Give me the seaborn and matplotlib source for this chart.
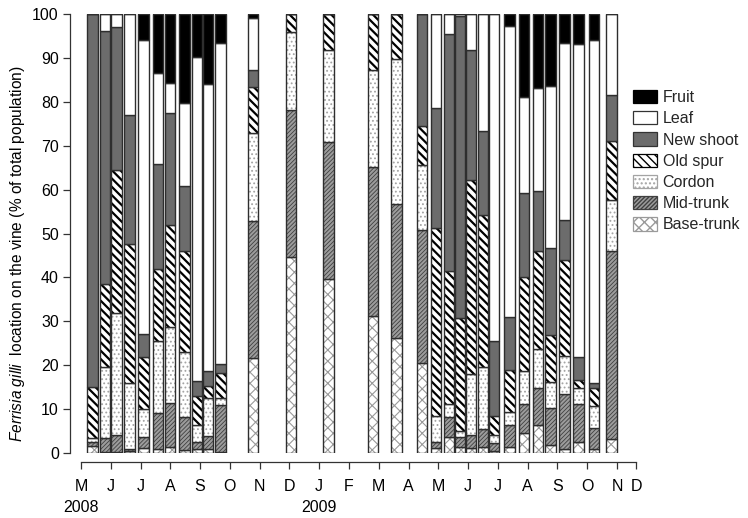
import numpy as np
import pandas as pd
import matplotlib
matplotlib.use("Agg")
import matplotlib.pyplot as plt
import matplotlib.patches as mpatches
import seaborn as sns

# ---- data (sampling time in months since 1 May 2008; % of population per location)
sample_month = [0.39, 0.81, 1.19, 1.63, 2.10, 2.59, 2.99, 3.48, 3.90, 4.27, 4.68,
                5.78, 7.05, 8.31, 9.81, 10.60,
                11.45, 11.92, 12.36, 12.73, 13.10, 13.50, 13.87, 14.39, 14.88,
                15.35, 15.78, 16.25, 16.72, 17.23, 17.81]

base_trunk = [1.7, 0.3, 0.3, 0.5, 1.2, 1.0, 1.3, 0.6, 0.8, 1.0, 0.3,
              21.6, 44.7, 39.6, 31.2, 26.1,
              20.5, 1.1, 3.6, 1.3, 1.1, 1.3, 0.5, 1.3, 4.6, 6.4, 1.8, 0.9, 2.4, 0.8, 3.2]
mid_trunk = [0.9, 3.2, 3.7, 0.5, 2.5, 8.0, 10.2, 7.7, 1.7, 2.8, 10.7,
             31.2, 33.4, 31.2, 34.0, 30.6,
             30.3, 1.5, 4.5, 2.3, 2.9, 4.2, 1.8, 5.1, 6.6, 8.4, 8.4, 12.6, 8.8, 4.8, 42.8]
cordon = [0.9, 16.1, 28.0, 15.0, 6.4, 16.6, 17.2, 14.7, 3.9, 8.7, 1.5,
          20.2, 17.9, 21.0, 22.0, 33.0,
          14.8, 5.8, 3.1, 1.5, 14.0, 14.1, 1.8, 2.9, 7.4, 8.9, 5.9, 8.5, 3.6, 5.2, 11.6]
old_spur = [11.5, 19.0, 32.4, 31.7, 11.8, 16.4, 23.3, 23.0, 6.6, 2.7, 5.8,
            10.3, 4.0, 8.2, 12.8, 10.3,
            8.8, 42.9, 30.2, 25.6, 44.2, 34.7, 4.3, 9.5, 21.5, 22.3, 10.7, 21.9, 1.9, 4.0, 13.5]
new_shoot = [85.0, 57.5, 32.6, 29.3, 5.1, 23.9, 25.5, 14.9, 3.3, 3.4, 1.9,
             3.9, 0.0, 0.0, 0.0, 0.0,
             25.6, 27.2, 54.0, 68.8, 29.7, 19.1, 17.2, 12.2, 19.2, 13.7, 19.9, 9.1, 5.1, 1.2, 10.5]
leaf = [0.0, 3.9, 3.0, 23.0, 67.0, 20.6, 6.8, 18.9, 73.8, 65.4, 73.1,
        11.8, 0.0, 0.0, 0.0, 0.0,
        0.0, 21.5, 4.6, 0.5, 8.1, 26.6, 74.4, 66.2, 21.7, 23.4, 36.8, 40.5, 71.4, 78.1, 18.4]
fruit = [0.0, 0.0, 0.0, 0.0, 6.0, 13.5, 15.7, 20.2, 9.9, 16.0, 6.7,
         1.0, 0.0, 0.0, 0.0, 0.0,
         0.0, 0.0, 0.0, 0.0, 0.0, 0.0, 0.0, 2.8, 19.0, 16.9, 16.5, 6.5, 6.8, 5.9, 0.0]

categories = ["Base-trunk", "Mid-trunk", "Cordon", "Old spur", "New shoot", "Leaf", "Fruit"]
series = [base_trunk, mid_trunk, cordon, old_spur, new_shoot, leaf, fruit]

month_labels = ["M", "J", "J", "A", "S", "O", "N", "D", "J", "F",
                "M", "A", "M", "J", "J", "A", "S", "O", "N", "D"]
month_positions = list(range(19)) + [18.64]
year_labels = {0: "2008", 8: "2009"}

# ---- styles
styles = {
    "Base-trunk": dict(face="white", hatch="xxx", hc="#9a9a9a", hlw=0.8),
    "Mid-trunk": dict(face="#9c9c9c", hatch="////////", hc="#404040", hlw=0.6),
    "Cordon": dict(face="white", hatch="....", hc="#a4a4a4", hlw=0.8),
    "Old spur": dict(face="white", hatch="\\\\\\\\", hc="black", hlw=1.6),
    "New shoot": dict(face="#6c6c6c", hatch=None, hc="#333333", hlw=1.0),
    "Leaf": dict(face="white", hatch=None, hc="#333333", hlw=1.0),
    "Fruit": dict(face="black", hatch=None, hc="black", hlw=1.0),
}

sns.set_theme(style="ticks")
plt.rcParams["font.family"] = ["Liberation Sans", "DejaVu Sans"]
plt.rcParams["mathtext.fontset"] = "custom"
plt.rcParams["mathtext.it"] = "Liberation Sans:italic"
plt.rcParams["mathtext.rm"] = "Liberation Sans"

df = pd.DataFrame({"month": sample_month})
for cat, vals in zip(categories, series):
    df[cat] = vals

fig = plt.figure(figsize=(7.48, 5.18), dpi=100)
ax = fig.add_axes([81 / 748, 65 / 518, (636 - 81) / 748, (453 - 14) / 518])

bar_w = 0.36
width_factor = bar_w / np.min(np.diff(np.sort(np.unique(sample_month))))

bottom = np.zeros(len(df))
for cat in categories:
    st = styles[cat]
    with plt.rc_context({"hatch.linewidth": st["hlw"]}):
        sns.barplot(data=df, x="month", y=cat, native_scale=True, orient="x",
                    color=st["face"], saturation=1, errorbar=None,
                    width=width_factor, ax=ax, bottom=bottom.copy(),
                    hatch=st["hatch"], edgecolor=st["hc"], linewidth=0)
    sns.barplot(data=df, x="month", y=cat, native_scale=True, orient="x",
                color="#2e2e2e", fill=False, errorbar=None,
                width=width_factor, ax=ax, bottom=bottom.copy(), linewidth=1.0)
    bottom += df[cat].values

ax.set_xlim(0, 18.64)
ax.set_ylim(0, 100)
ax.set_yticks(np.arange(0, 101, 10))
ax.set_xticks(month_positions)
for sp in ax.spines.values():
    sp.set_linewidth(0.9)
    sp.set_color("#333333")
sns.despine(ax=ax, offset={"left": 8, "bottom": 6.5}, trim=True)

xlabels = [m + ("\n" + year_labels[i] if i in year_labels else "") for i, m in enumerate(month_labels)]
ax.set_xticks(month_positions)
ax.set_xticklabels(xlabels, linespacing=1.5)
ax.tick_params(axis="both", direction="out", length=5, width=0.9, color="#333333",
               labelsize=11.5, labelcolor="black")
ax.tick_params(axis="x", pad=7)
ax.tick_params(axis="y", pad=3)

ax.set_xlabel("")
ax.set_ylabel(r"$\it{Ferrisia\ gilli}$  location on the vine (% of total population)",
              fontsize=11.2, color="black")
ax.yaxis.set_label_coords(-0.097, 0.455)

handles = []
for cat in categories[::-1]:
    st = styles[cat]
    with plt.rc_context({"hatch.linewidth": st["hlw"]}):
        handles.append(mpatches.Patch(facecolor=st["face"], hatch=st["hatch"],
                                      edgecolor=st["hc"], linewidth=0.9, label=cat))
ax.legend(handles=handles, loc="upper left", bbox_to_anchor=(633 / 748, 1 - 90 / 518),
          bbox_transform=fig.transFigure, frameon=False, fontsize=11.5,
          handlelength=1.5, handleheight=0.9, labelspacing=0.38, handletextpad=0.35,
          borderaxespad=0, borderpad=0)

fig.savefig("out.png", dpi=100)
